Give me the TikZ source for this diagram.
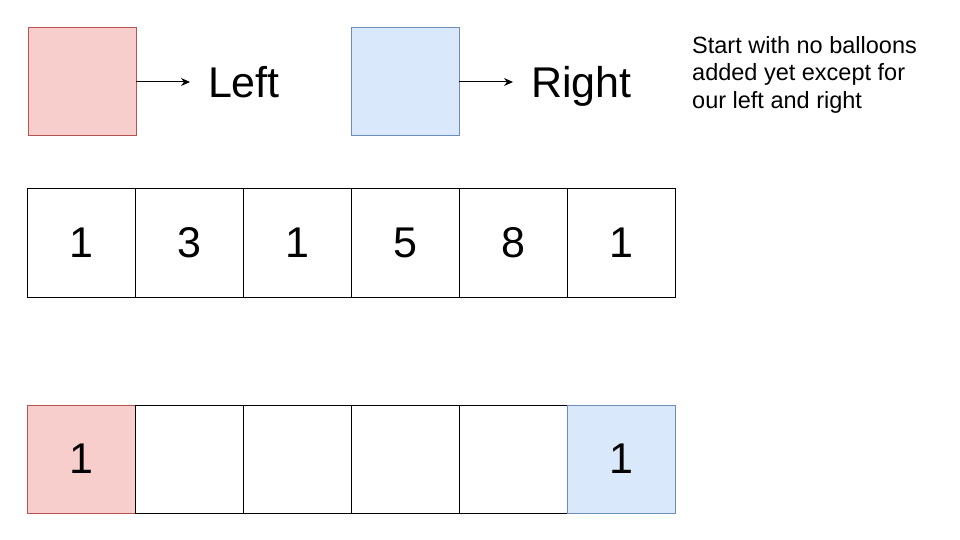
\documentclass[tikz,border=0pt]{standalone}
\usepackage{fontspec}
\setmainfont{Liberation Sans}
\usetikzlibrary{positioning,arrows.meta}
\definecolor{leftfill}{HTML}{F8CECC}
\definecolor{leftdraw}{HTML}{B85450}
\definecolor{rightfill}{HTML}{DAE8FC}
\definecolor{rightdraw}{HTML}{6C8EBF}
\begin{document}
\begin{tikzpicture}[
   x=1pt,y=-1pt,
   every matrix/.style={ampersand replacement=\&,column sep=-1pt,row sep=0pt},
   cell/.style={draw,line width=1pt,minimum size=108pt,inner sep=0pt,outer sep=0pt,font=\fontsize{43}{50}\selectfont},
   lball/.style={cell,draw=leftdraw,fill=leftfill},
   rball/.style={cell,draw=rightdraw,fill=rightfill},
   tag/.style={inner xsep=18pt,inner ysep=0pt,outer sep=0pt,text depth=0pt,font=\fontsize{43}{50}\selectfont},
   pointer/.style={-{Stealth[length=9pt,width=8pt]},line width=1pt}]
\useasboundingbox (0,0) rectangle (960,540);
\node[lball] (L) at (82,82) {};
\node[tag,right=54pt of L] (Ltag) {Left};
\node[rball] (R) at (405,82) {};
\node[tag,right=54pt of R] (Rtag) {Right};
\node[anchor=north west,align=left,inner sep=0pt,font=\fontsize{23.5}{27.5}\selectfont] (note) at (692,36) {Start with no balloons\\added yet except for\\our left and right};
\draw[pointer] (L) -- (Ltag);
\draw[pointer] (R) -- (Rtag);
\matrix (nums) at (351.5,243) {
\node[cell] (n1) {1};\&\node[cell] (n2) {3};\&\node[cell] (n3) {1};\&\node[cell] (n4) {5};\&\node[cell] (n5) {8};\&\node[cell] (n6) {1};\\
};
\matrix (dp) at (351.5,459) {
\node[lball] (d1) {1};\&\node[cell] (d2) {};\&\node[cell] (d3) {};\&\node[cell] (d4) {};\&\node[cell] (d5) {};\&\node[rball] (d6) {1};\\
};
\end{tikzpicture}
\end{document}
